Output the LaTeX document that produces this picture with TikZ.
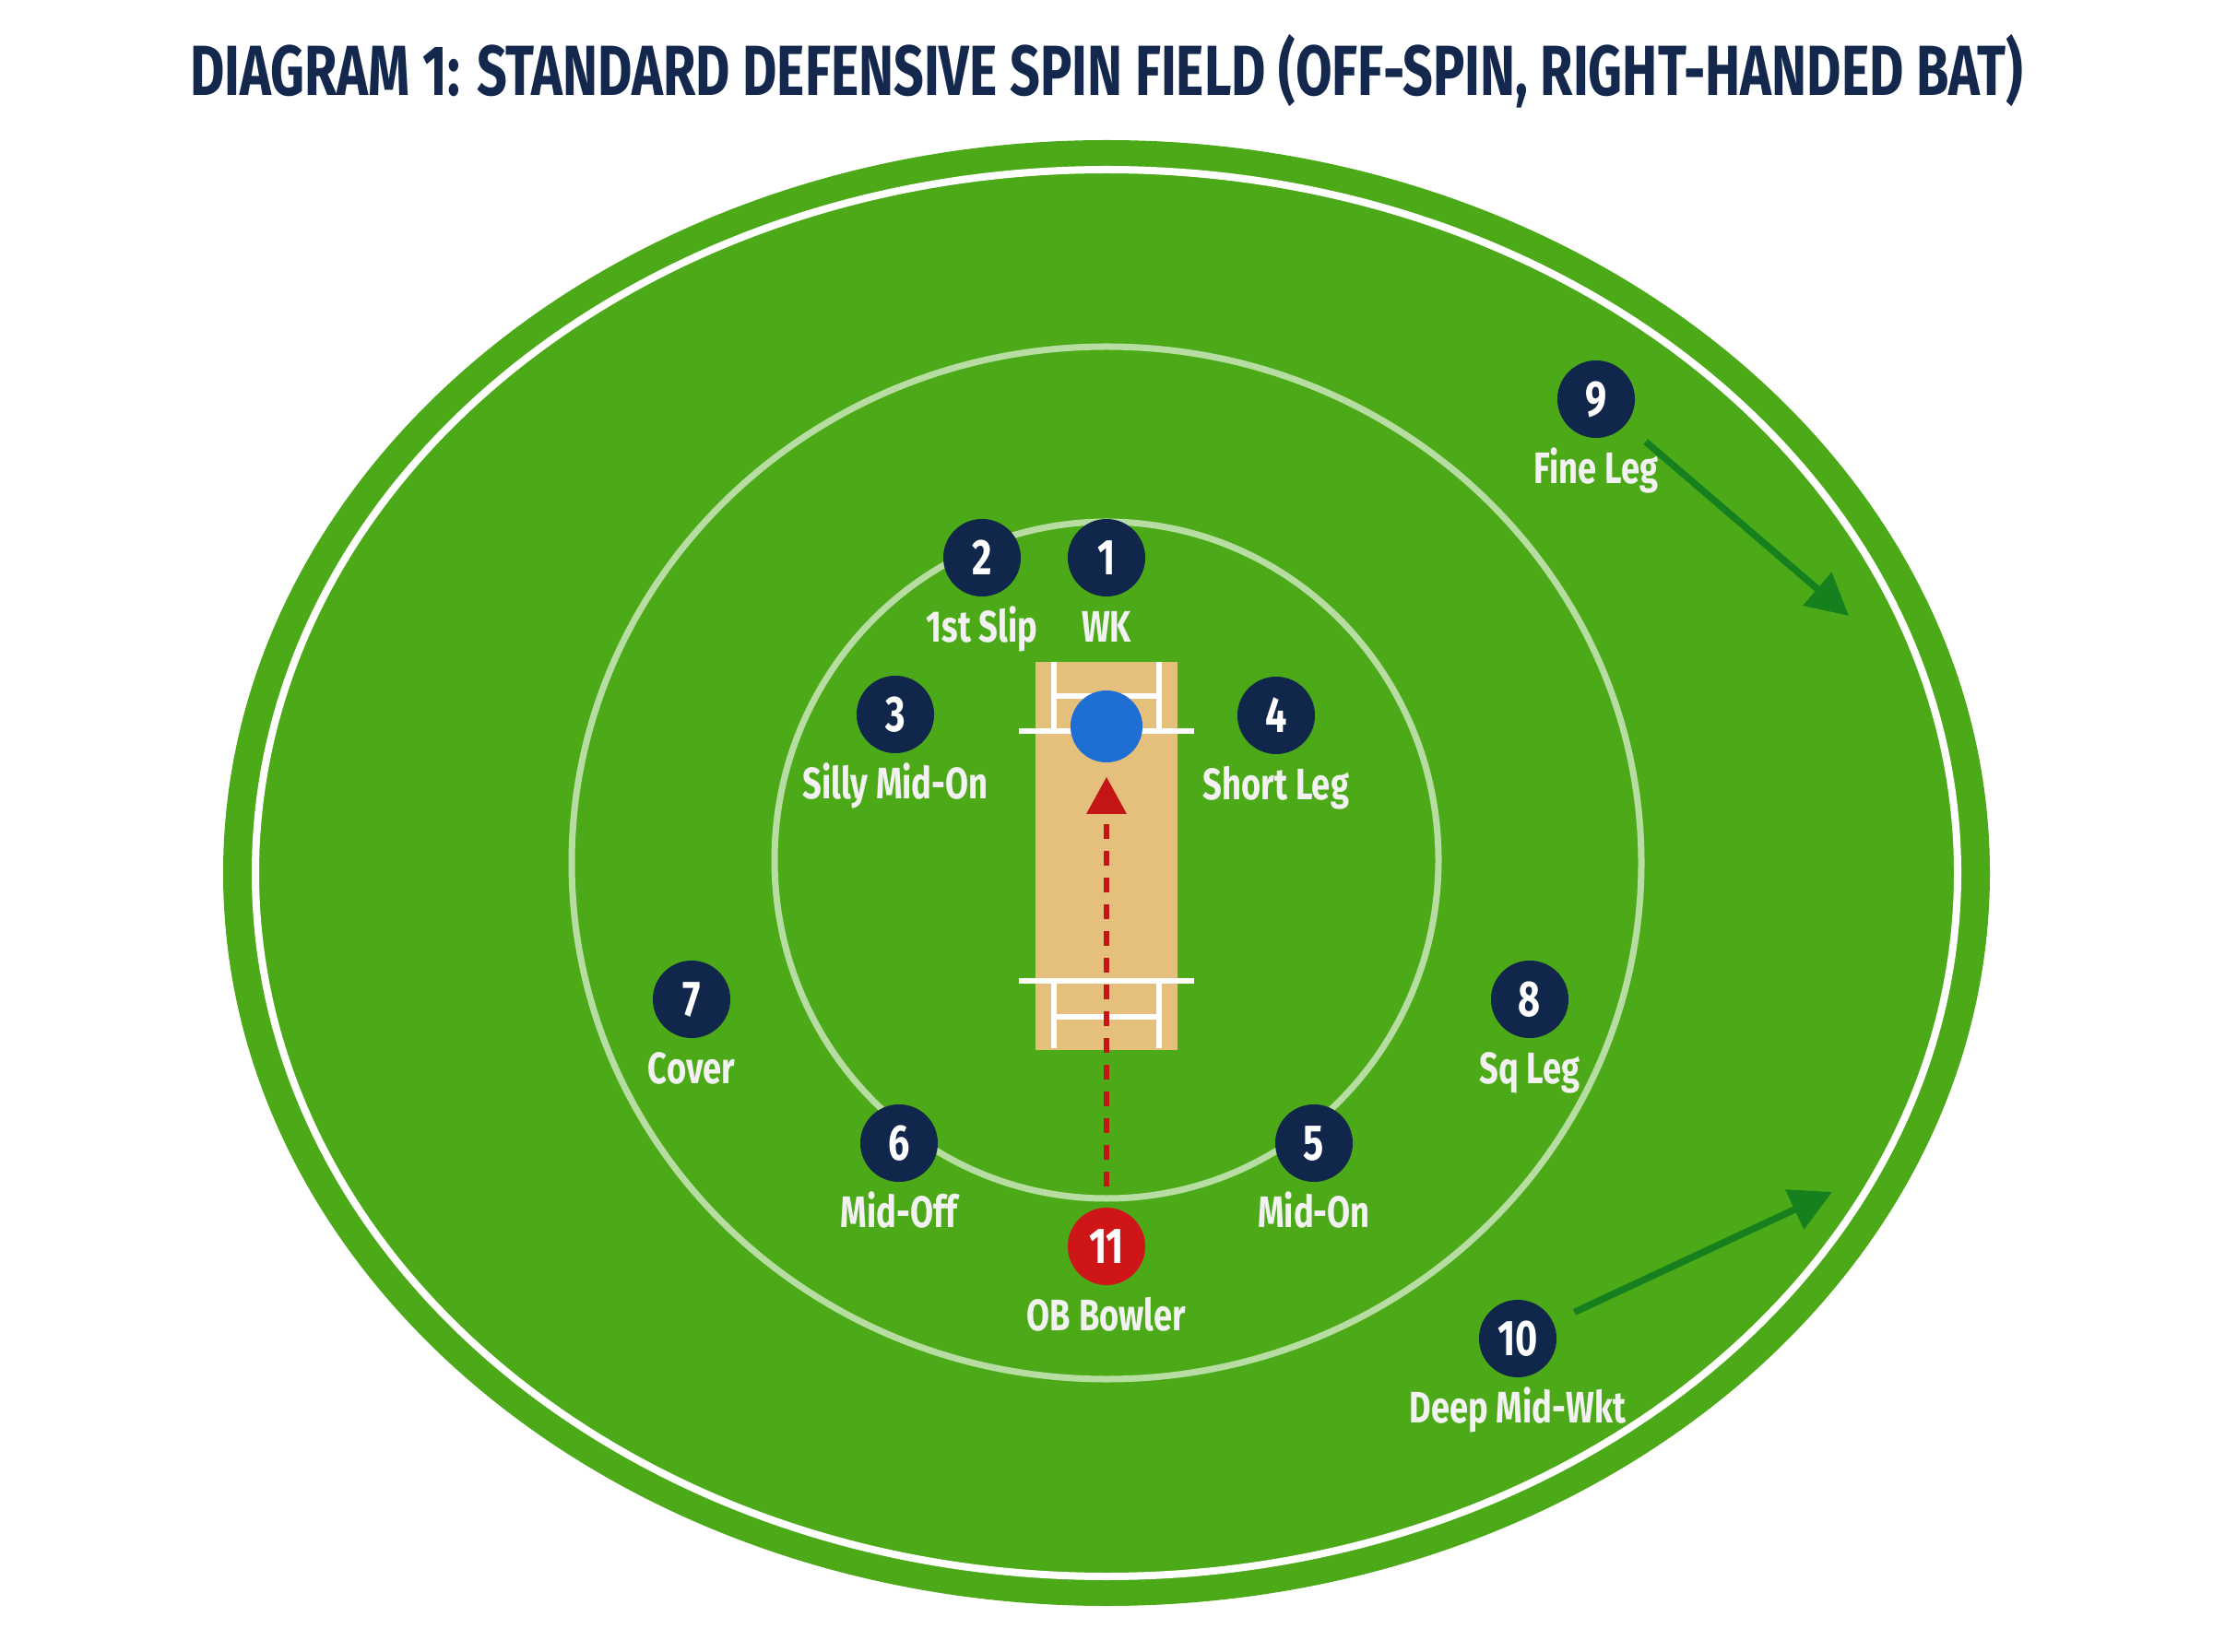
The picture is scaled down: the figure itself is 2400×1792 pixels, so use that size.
\documentclass[tikz,border=0pt]{standalone}
\usepackage{fontspec}
\setmainfont{Fira Sans}[FakeStretch=0.76]
\newfontfamily\headfont{Fira Sans}[FakeStretch=0.745]
\usetikzlibrary{arrows.meta}
\definecolor{turf}{RGB}{76,170,24}
\definecolor{navy}{RGB}{16,38,74}
\definecolor{bowlred}{RGB}{206,22,24}
\definecolor{batblue}{RGB}{30,110,212}
\definecolor{strip}{RGB}{228,192,124}
\definecolor{runred}{RGB}{196,22,22}
\definecolor{drift}{RGB}{22,128,30}
\definecolor{heading}{RGB}{20,40,78}

\begin{document}
\begin{tikzpicture}[x=0.01cm, y=-0.01cm, node distance=0.75cm,
  fielder/.style = {circle, fill=navy, text=white, minimum size=0.84cm, inner sep=0pt,
    font=\bfseries\fontsize{15.5}{17}\selectfont, text height=0.37cm, text depth=0pt},
  bowler/.style = {fielder, fill=bowlred},
  role/.style = {text=white!95!black, inner sep=0pt,
    font=\bfseries\fontsize{13.6}{15}\selectfont, text height=0.33cm, text depth=0pt},
  zone/.style = {draw=white!60!turf, line width=0.07cm},
  crease/.style = {draw=white, line width=0.06cm},
  drifts/.style = {draw=drift, line width=0.075cm, -{Triangle[length=0.45cm, width=0.46cm]}},
  delivery/.style = {draw=runred, line width=0.06cm, dash pattern=on 0.16cm off 0.13cm,
    -{Triangle[length=0.4cm, width=0.42cm]}}]
% ground
\fill[white] (0,0) rectangle (2400,1792);
\node[text=heading, inner sep=0pt, font=\headfont\bfseries\fontsize{21.9}{24}\selectfont,
  text height=0.53cm, text depth=0pt] (title) at (1200,77)
  {DIAGRAM 1: STANDARD DEFENSIVE SPIN FIELD (OFF-SPIN, RIGHT-HANDED BAT)};
\fill[turf] (1200,947) ellipse [x radius=958, y radius=795];
\draw[white, line width=0.08cm] (1200,947) ellipse [x radius=923, y radius=763];
\draw[zone] (1200,936) ellipse [x radius=580, y radius=560];
\draw[zone] (1200,933) ellipse [x radius=360, y radius=367];
% pitch
\fill[strip] (1123,718) rectangle (1277,1139);
\draw[crease] (1105,793) -- (1295,793);
\draw[crease] (1143,755) -- (1257,755);
\draw[crease] (1143,718) -- (1143,793);
\draw[crease] (1257,718) -- (1257,793);
\draw[crease] (1105,1064) -- (1295,1064);
\draw[crease] (1143,1103) -- (1257,1103);
\draw[crease] (1143,1064) -- (1143,1137);
\draw[crease] (1257,1064) -- (1257,1137);
\node[circle, fill=batblue, minimum size=0.78cm, inner sep=0pt] (bat) at (1200,788) {};
% fielders
\node[fielder] (f1) at (1200,605) {1};
\node[fielder] (f2) at (1065,605) {2};
\node[fielder] (f3) at (971,775) {3};
\node[fielder] (f4) at (1384,776) {4};
\node[fielder] (f5) at (1425,1240) {5};
\node[fielder] (f6) at (975,1240) {6};
\node[fielder] (f7) at (750,1084) {7};
\node[fielder] (f8) at (1659,1084) {8};
\node[fielder] (f9) at (1731,433) {9};
\node[fielder] (f10) at (1646,1452) {10};
\node[bowler] (f11) at (1200,1352) {11};
\node[role] (l1) [below of=f1] {WK};
\node[role] (l2) [below of=f2] {1st Slip};
\node[role] (l3) [below of=f3] {Silly Mid-On};
\node[role] (l4) [below of=f4] {Short Leg};
\node[role] (l5) [below of=f5] {Mid-On};
\node[role] (l6) [below of=f6] {Mid-Off};
\node[role] (l7) [below of=f7] {Cover};
\node[role] (l8) [below of=f8] {Sq Leg};
\node[role] (l9) [below of=f9] {Fine Leg};
\node[role] (l10) [below of=f10] {Deep Mid-Wkt};
\node[role] (l11) [below of=f11] {OB Bowler};
% movements
\coordinate (t9) at (2005,668);
\coordinate (t10) at (1987,1293);
\draw[drifts, shorten <=0.28cm] (f9) -- (t9);
\draw[drifts, shorten <=0.25cm] (f10) -- (t10);
\draw[delivery, shorten <=0.22cm, shorten >=0.15cm] (f11) -- (bat);
\end{tikzpicture}
\end{document}
